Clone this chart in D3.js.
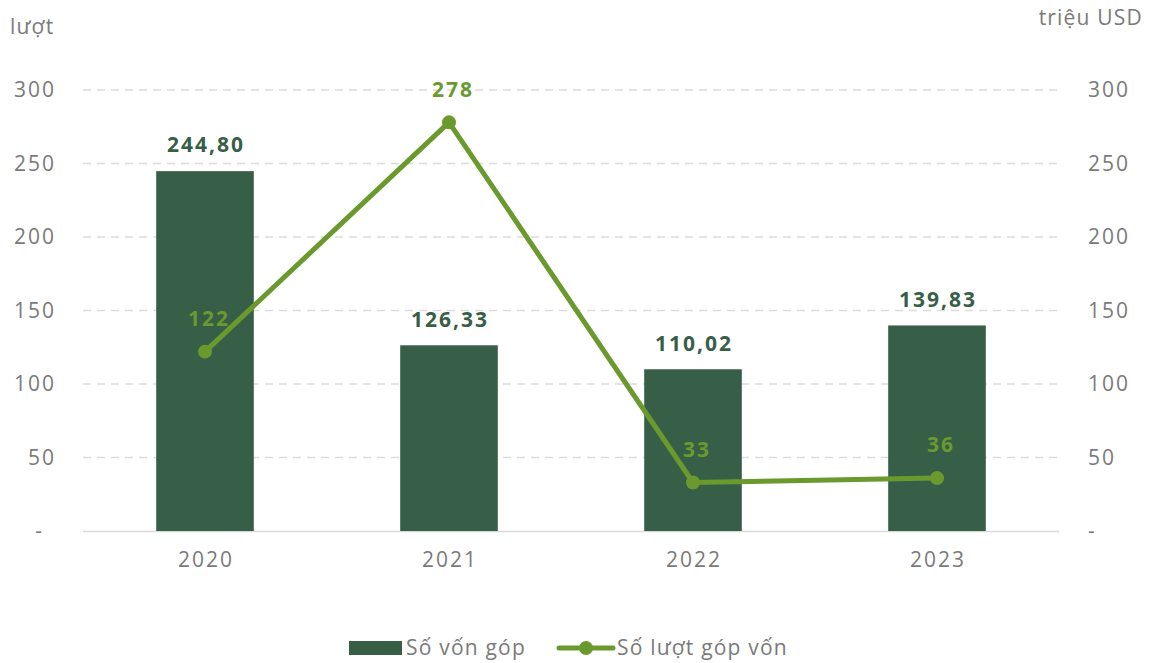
<!DOCTYPE html>
<html>
<head>
<meta charset="utf-8">
<script src="https://cdn.jsdelivr.net/npm/d3@7"></script>
<style>
  body { margin: 0; background: #fff; }
  text { font-family: "Open Sans", "Noto Sans", sans-serif; }
  .num { letter-spacing: 2px; }
  .word { letter-spacing: 1.2px; }
</style>
</head>
<body>
<svg width="1150" height="663"></svg>
<script>
var years = ["2020", "2021", "2022", "2023"];
var capital = [244.80, 126.33, 110.02, 139.83];   // triệu USD (bars)
var deals = [122, 278, 33, 36];                  // lượt (line)
var ticks = [0, 50, 100, 150, 200, 250, 300];

var barColor = "#375e47",
    lineColor = "#6a9a2e",
    tickColor = "#7a7a7a";

var svg = d3.select("svg"),
    plotLeft = 83, plotRight = 1059, plotTop = 90, plotBottom = 531;

var x = d3.scaleBand()
    .domain(years)
    .range([plotLeft, plotRight])
    .paddingInner(0.6)
    .paddingOuter(0.3);

var yL = d3.scaleLinear().domain([0, 300]).range([plotBottom, plotTop]);
var yR = d3.scaleLinear().domain([0, 300]).range([plotBottom, plotTop]);

var fmt = function(v) { return v.toFixed(2).replace(".", ","); };
var cx = function(i) { return x(years[i]) + x.bandwidth() / 2; };

// grid
svg.append("g").selectAll("line")
    .data(ticks.slice(1))
    .enter().append("line")
    .attr("x1", plotLeft).attr("x2", plotRight)
    .attr("y1", function(d) { return yL(d); })
    .attr("y2", function(d) { return yL(d); })
    .attr("stroke", "#dcdcdc")
    .attr("stroke-width", 1.5)
    .attr("stroke-dasharray", "8,6");

svg.append("line")
    .attr("x1", plotLeft).attr("x2", plotRight)
    .attr("y1", plotBottom + 0.5).attr("y2", plotBottom + 0.5)
    .attr("stroke", "#d9d9d9")
    .attr("stroke-width", 1.5);

// left ticks
svg.append("g").selectAll("text")
    .data(ticks)
    .enter().append("text")
    .attr("class", "num")
    .attr("x", function(d) { return d === 0 ? 44 : 56; })
    .attr("y", function(d) { return yL(d); })
    .attr("dy", "0.35em")
    .attr("text-anchor", "end")
    .attr("fill", tickColor)
    .style("font-size", "21px")
    .text(function(d) { return d === 0 ? "-" : d; });

// right ticks
svg.append("g").selectAll("text")
    .data(ticks)
    .enter().append("text")
    .attr("class", "num")
    .attr("x", 1088)
    .attr("y", function(d) { return yR(d); })
    .attr("dy", "0.35em")
    .attr("fill", tickColor)
    .style("font-size", "21px")
    .text(function(d) { return d === 0 ? "-" : d; });

svg.append("text").attr("class", "word").attr("x", 10).attr("y", 34)
    .attr("fill", tickColor).style("font-size", "21px").text("lượt");
svg.append("text").attr("class", "word").attr("x", 1143).attr("y", 25)
    .attr("text-anchor", "end")
    .attr("fill", tickColor).style("font-size", "21px").text("triệu USD");

// x labels
svg.append("g").selectAll("text")
    .data(years)
    .enter().append("text")
    .attr("class", "num")
    .attr("x", function(d, i) { return cx(i) + 1; })
    .attr("y", 560)
    .attr("dy", "0.35em")
    .attr("text-anchor", "middle")
    .attr("fill", tickColor)
    .style("font-size", "21px")
    .text(function(d) { return d; });

// bars
svg.append("g").selectAll("rect")
    .data(capital)
    .enter().append("rect")
    .attr("x", function(d, i) { return x(years[i]); })
    .attr("width", x.bandwidth())
    .attr("y", function(d) { return yR(d); })
    .attr("height", function(d) { return plotBottom - yR(d); })
    .attr("fill", barColor);

svg.append("g").selectAll("text")
    .data(capital)
    .enter().append("text")
    .attr("class", "num")
    .attr("x", function(d, i) { return cx(i) + 1; })
    .attr("y", function(d) { return yR(d) - 26; })
    .attr("dy", "0.35em")
    .attr("text-anchor", "middle")
    .attr("fill", barColor)
    .style("font-size", "21px")
    .style("font-weight", "bold")
    .text(fmt);

// line
var line = d3.line()
    .x(function(d, i) { return cx(i); })
    .y(function(d) { return yL(d); });

svg.append("path")
    .datum(deals)
    .attr("d", line)
    .attr("fill", "none")
    .attr("stroke", lineColor)
    .attr("stroke-width", 5)
    .attr("stroke-linejoin", "round");

svg.append("g").selectAll("circle")
    .data(deals)
    .enter().append("circle")
    .attr("cx", function(d, i) { return cx(i); })
    .attr("cy", function(d) { return yL(d); })
    .attr("r", 7)
    .attr("fill", lineColor);

svg.append("g").selectAll("text")
    .data(deals)
    .enter().append("text")
    .attr("class", "num")
    .attr("x", function(d, i) { return cx(i) + 4; })
    .attr("y", function(d) { return yL(d) - 33; })
    .attr("dy", "0.35em")
    .attr("text-anchor", "middle")
    .attr("fill", lineColor)
    .style("font-size", "21px")
    .style("font-weight", "bold")
    .text(function(d) { return d; });

// legend
var lg = svg.append("g");
lg.append("rect").attr("x", 349).attr("y", 641).attr("width", 53).attr("height", 14).attr("fill", barColor);
lg.append("text").attr("class", "word").attr("x", 406).attr("y", 648).attr("dy", "0.35em")
    .attr("fill", tickColor).style("font-size", "21px").text("Số vốn góp");
lg.append("line").attr("x1", 559).attr("x2", 613).attr("y1", 648).attr("y2", 648)
    .attr("stroke", lineColor).attr("stroke-width", 5).attr("stroke-linecap", "round");
lg.append("circle").attr("cx", 586).attr("cy", 648).attr("r", 7).attr("fill", lineColor);
lg.append("text").attr("class", "word").attr("x", 617).attr("y", 648).attr("dy", "0.35em")
    .attr("fill", tickColor).style("font-size", "21px").text("Số lượt góp vốn");
</script>
</body>
</html>
